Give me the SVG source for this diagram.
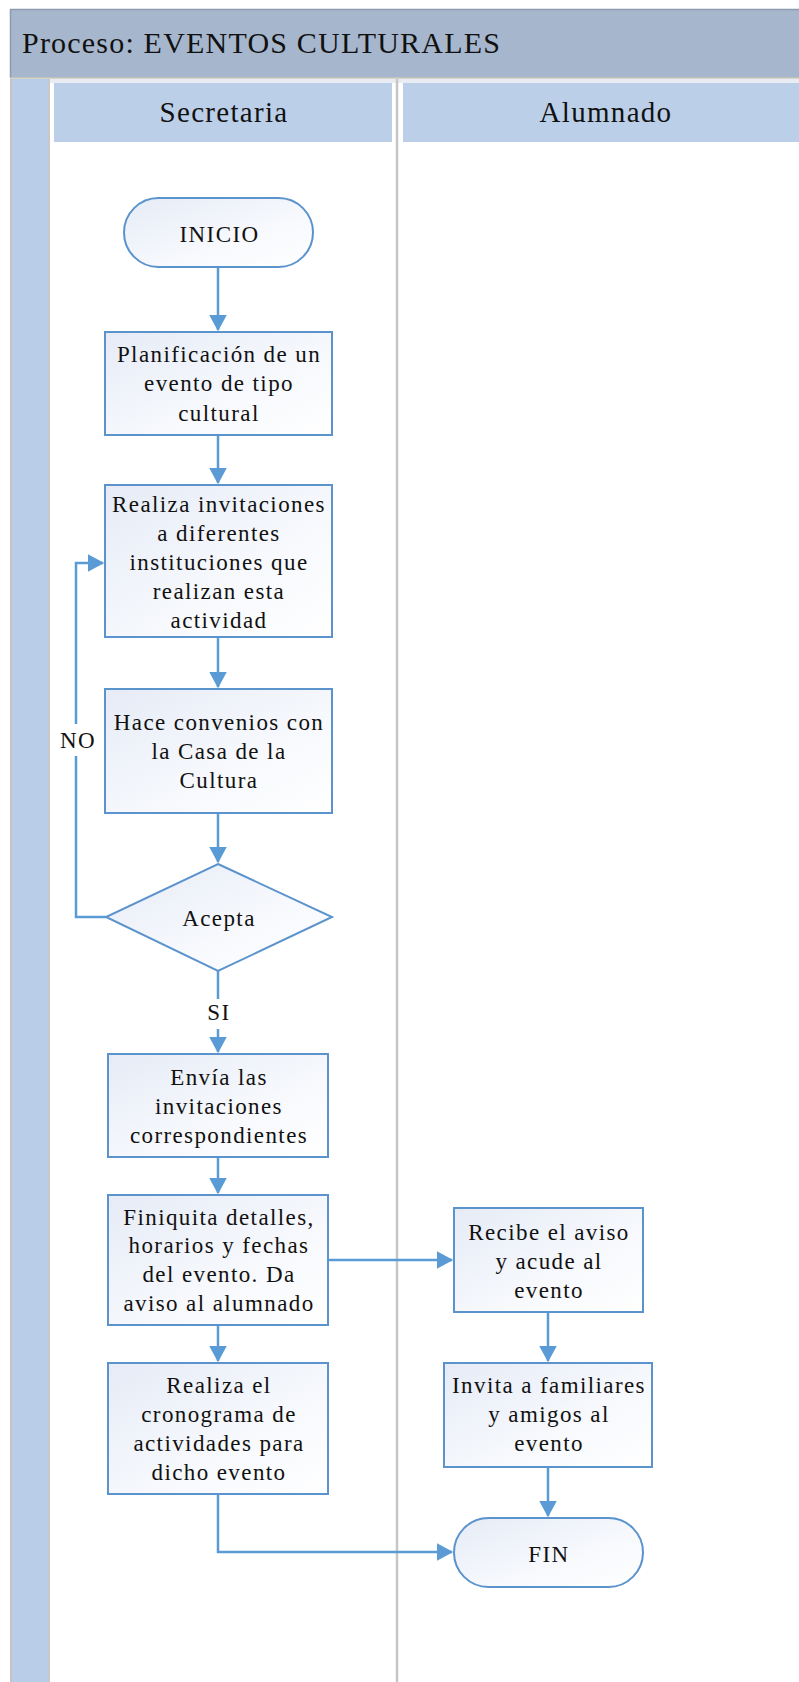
<svg xmlns="http://www.w3.org/2000/svg" width="799" height="1682" viewBox="0 0 799 1682">
<style>
.t{font-family:"Liberation Serif","Times New Roman",serif;fill:#111;text-anchor:middle;}
.n{font-size:23px;letter-spacing:1.4px;}
.h{font-size:29px;letter-spacing:1.3px;}
.node{fill:url(#g);stroke:#5b93cc;stroke-width:2;}
.c{fill:none;stroke:#5b9bd5;stroke-width:2.5;}
</style>
<defs>
<linearGradient id="g" x1="0" y1="0" x2="1" y2="1">
<stop offset="0" stop-color="#e6ebf6"/>
<stop offset="0.6" stop-color="#f7f9fd"/>
<stop offset="1" stop-color="#ffffff"/>
</linearGradient>
<marker id="a" markerWidth="7" markerHeight="7" refX="6" refY="3.5" orient="auto" markerUnits="strokeWidth">
<path d="M0,0 L6.5,3.5 L0,7 Z" fill="#5b9bd5"/>
</marker>
</defs>
<rect x="0" y="0" width="799" height="1682" fill="#ffffff"/>
<g id="pool">
<rect x="10" y="9" width="800" height="69" fill="#a6b6cd"/>
<line x1="10" y1="9.5" x2="799" y2="9.5" stroke="#8d9bb0" stroke-width="1.5"/>
<line x1="10.5" y1="9" x2="10.5" y2="78" stroke="#8d9bb0" stroke-width="1.5"/>
<line x1="10" y1="78" x2="799" y2="78" stroke="#c9c6b8" stroke-width="1.5"/>
<rect x="10" y="79" width="800" height="4" fill="#e9edf3"/>
<text class="t" x="22" y="53" font-size="30" letter-spacing="1.2" style="text-anchor:start">Proceso: EVENTOS CULTURALES</text>
<rect x="10" y="79" width="40" height="1603" fill="#b9cde8"/>
<line x1="11" y1="79" x2="11" y2="1682" stroke="#c4c4c4" stroke-width="2"/>
<line x1="49" y1="79" x2="49" y2="1682" stroke="#c8c8c8" stroke-width="2"/>
<rect x="54" y="83" width="338" height="59" fill="#bccfe8"/>
<rect x="403" y="83" width="400" height="59" fill="#bccfe8"/>
<line x1="397" y1="79" x2="397" y2="1682" stroke="#c6c6c6" stroke-width="2.5"/>
<text class="t h" x="224" y="122">Secretaria</text>
<text class="t h" x="606" y="122">Alumnado</text>
</g>
<g id="connectors">
<path class="c" d="M218,267 V330" marker-end="url(#a)"/>
<path class="c" d="M218,435 V483" marker-end="url(#a)"/>
<path class="c" d="M218,637 V687" marker-end="url(#a)"/>
<path class="c" d="M218,813 V862" marker-end="url(#a)"/>
<path class="c" d="M106,917 H76 V563 H103" marker-end="url(#a)"/>
<path class="c" d="M218,971 V1052" marker-end="url(#a)"/>
<path class="c" d="M218,1157 V1193" marker-end="url(#a)"/>
<path class="c" d="M218,1325 V1361" marker-end="url(#a)"/>
<path class="c" d="M328,1260 H452" marker-end="url(#a)"/>
<path class="c" d="M548,1312 V1361" marker-end="url(#a)"/>
<path class="c" d="M548,1467 V1516" marker-end="url(#a)"/>
<path class="c" d="M218,1494 V1552 H452" marker-end="url(#a)"/>
<rect x="56" y="724" width="42" height="32" fill="#ffffff"/>
<text class="t n" x="78" y="748">NO</text>
<rect x="202" y="999" width="32" height="30" fill="#ffffff"/>
<text class="t n" x="219" y="1020">SI</text>
</g>
<g id="inicio">
<rect class="node" x="124" y="198" width="189" height="69" rx="34.5"/>
<text class="t n" x="219.5" y="242">INICIO</text>
</g>
<g id="planificacion">
<rect class="node" x="105" y="332" width="227" height="103"/>
<text class="t n" x="219" y="362">Planificación de un</text>
<text class="t n" x="219" y="391">evento de tipo</text>
<text class="t n" x="219" y="421">cultural</text>
</g>
<g id="invitaciones">
<rect class="node" x="105" y="485" width="227" height="152"/>
<text class="t n" x="219" y="512">Realiza invitaciones</text>
<text class="t n" x="219" y="541">a diferentes</text>
<text class="t n" x="219" y="570">instituciones que</text>
<text class="t n" x="219" y="599">realizan esta</text>
<text class="t n" x="219" y="628">actividad</text>
</g>
<g id="convenios">
<rect class="node" x="105" y="689" width="227" height="124"/>
<text class="t n" x="219" y="730">Hace convenios con</text>
<text class="t n" x="219" y="759">la Casa de la</text>
<text class="t n" x="219" y="788">Cultura</text>
</g>
<g id="acepta">
<polygon class="node" points="218,864 332,917 218,971 106,917"/>
<text class="t n" x="219" y="926">Acepta</text>
</g>
<g id="envia">
<rect class="node" x="108" y="1054" width="220" height="103"/>
<text class="t n" x="219" y="1085">Envía las</text>
<text class="t n" x="219" y="1114">invitaciones</text>
<text class="t n" x="219" y="1143">correspondientes</text>
</g>
<g id="finiquita">
<rect class="node" x="108" y="1195" width="220" height="130"/>
<text class="t n" x="219" y="1225">Finiquita detalles,</text>
<text class="t n" x="219" y="1253">horarios y fechas</text>
<text class="t n" x="219" y="1282">del evento. Da</text>
<text class="t n" x="219" y="1311">aviso al alumnado</text>
</g>
<g id="cronograma">
<rect class="node" x="108" y="1363" width="220" height="131"/>
<text class="t n" x="219" y="1393">Realiza el</text>
<text class="t n" x="219" y="1422">cronograma de</text>
<text class="t n" x="219" y="1451">actividades para</text>
<text class="t n" x="219" y="1480">dicho evento</text>
</g>
<g id="recibe">
<rect class="node" x="454" y="1208" width="189" height="104"/>
<text class="t n" x="549" y="1240">Recibe el aviso</text>
<text class="t n" x="549" y="1269">y acude al</text>
<text class="t n" x="549" y="1298">evento</text>
</g>
<g id="invita">
<rect class="node" x="444" y="1363" width="208" height="104"/>
<text class="t n" x="549" y="1393">Invita a familiares</text>
<text class="t n" x="549" y="1422">y amigos al</text>
<text class="t n" x="549" y="1451">evento</text>
</g>
<g id="fin">
<rect class="node" x="454" y="1518" width="189" height="69" rx="34.5"/>
<text class="t n" x="549" y="1562">FIN</text>
</g>
</svg>
